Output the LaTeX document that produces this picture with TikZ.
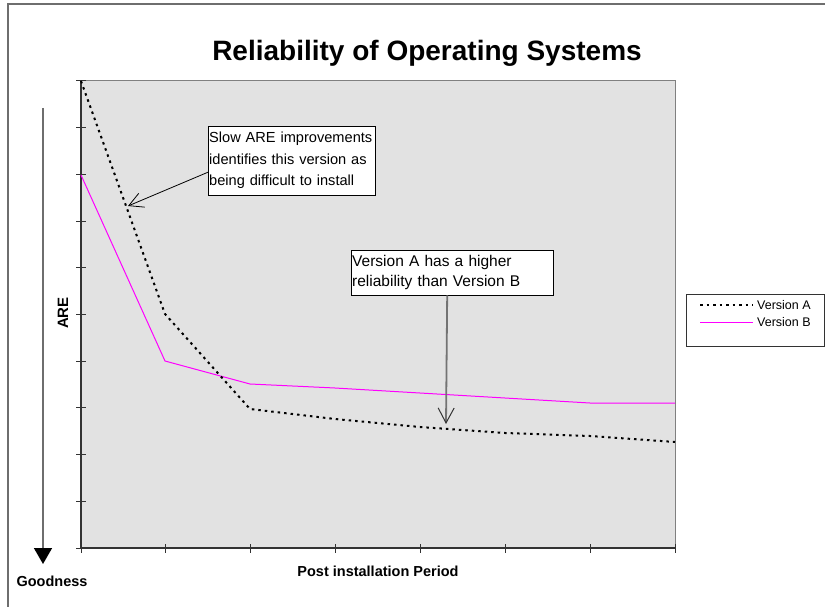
\documentclass[tikz,border=0pt]{standalone}
\usepackage{fontspec}
\setmainfont{Liberation Sans}
\usetikzlibrary{arrows.meta}
\definecolor{plotgray}{HTML}{E2E2E2}
\definecolor{framegray}{HTML}{6E6E6E}
\definecolor{lineb}{HTML}{FF00FF}

\begin{document}
\begin{tikzpicture}[x=1pt,y=-1pt]
  \tikzset{note/.style = {draw=black, fill=white, anchor=north west, inner xsep=1pt, inner ysep=0pt,
      align=left, font=\fontsize{15.5}{20.5}\selectfont}}
  \tikzset{label/.style = {inner sep=0pt, font=\bfseries\fontsize{14.5}{17}\selectfont}}
  \tikzset{versa/.style = {line width=2pt, dash pattern=on 2.5pt off 4pt}}
  \tikzset{versb/.style = {lineb, line width=1pt}}

\useasboundingbox (0,0) rectangle (825,607);

% outer frame, only top and left edge show
\draw[framegray, line width=1.5pt] (8,607) -- (8,4) -- (825,4);

% plot area
\fill[plotgray] (81,81) rectangle (675,548);
\draw[gray, line width=1pt] (81,81) -- (675,81) -- (675,548);
\draw[black!80, line width=1.2pt] (81,81) -- (81,548) -- (675,548);
\foreach \k in {0,...,10}
  \draw[black!80, line width=1pt] (76,81+46.7*\k) -- (86,81+46.7*\k);
\foreach \k in {0,...,7}
  \draw[black!80, line width=1pt] (81+84.86*\k,544) -- (81+84.86*\k,553);

\node[font=\bfseries\fontsize{28}{32}\selectfont] (title) at (427,53) {Reliability of Operating Systems};

% data
\draw[versb] (81,175) -- (165,361) -- (250,384) -- (335,388) -- (420,393) -- (505,398) -- (590,403) -- (675,403);
\draw[versa] (81,81) -- (165,314) -- (250,409) -- (335,419) -- (420,427) -- (505,433) -- (590,436) -- (675,442);

% axis names
\node[label, rotate=90, font=\bfseries\fontsize{15}{17}\selectfont] (are) at (63,313) {ARE};
\node[label] (good) at (52,581) {Goodness};
\node[label] (period) at (378,571) {Post installation Period};
\coordinate (goodtop) at (43,108);
\coordinate (goodtip) at (43,564);
\draw[framegray, line width=1.5pt, -{Triangle[length=16pt,width=18pt,fill=black,color=black]}] (goodtop) -- (goodtip);

% notes
\node[note, text width=165pt, minimum height=69pt, font=\fontsize{14.6}{21.5}\selectfont] (slownote) at (208,126)
  {Slow ARE improvements\\identifies this version as\\being difficult to install};
\node[note, text width=200pt, minimum height=45pt] (highnote) at (351,250)
  {Version A has a higher\\reliability than Version B};
\coordinate (slowtip) at (128,206);
\coordinate (hightip) at (446,424);
\draw[line width=0.8pt, -{Straight Barb[length=14pt,width=15pt]}] ([yshift=-11.5pt]slownote.west) -- (slowtip);
\draw[black!55, line width=1.8pt, -{Straight Barb[length=15pt,width=16pt,color=black!80,line width=1pt]}] ([xshift=-5pt]highnote.south) -- (hightip);

% legend
\draw[black!80, fill=white, line width=0.8pt] (686,294) rectangle (824,346);
\node[anchor=west, inner sep=0pt, font=\fontsize{12.5}{14}\selectfont] (leg a) at (757,305) {Version A};
\node[anchor=west, inner sep=0pt, font=\fontsize{12.5}{14}\selectfont] (leg b) at (757,322) {Version B};
\coordinate (sample a) at (700,305);
\coordinate (sample b) at (700,322);
\draw[versa, line width=1.6pt] (sample a) -- ([xshift=-4pt]leg a.west);
\draw[versb] (sample b) -- ([xshift=-4pt]leg b.west);

\end{tikzpicture}
\end{document}
